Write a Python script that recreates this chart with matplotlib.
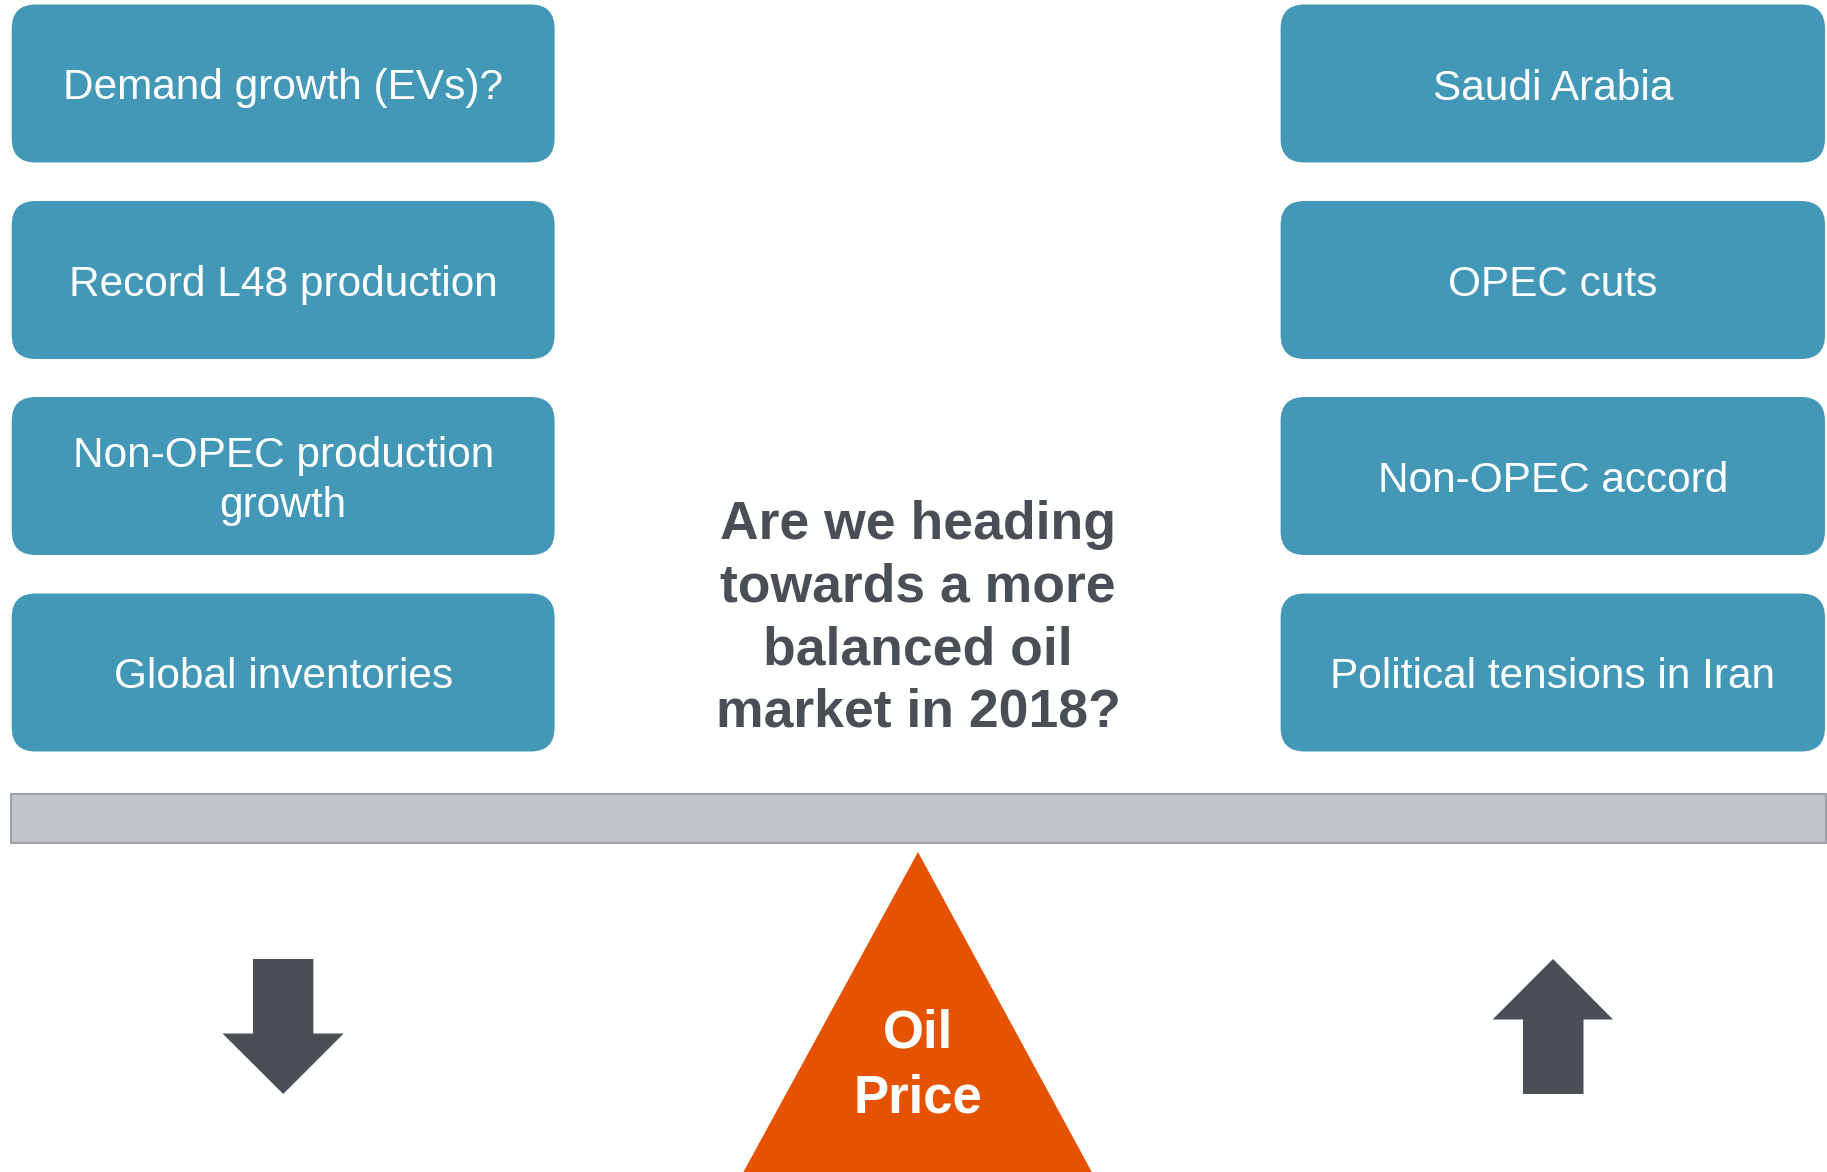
import matplotlib
matplotlib.use("Agg")
import matplotlib.pyplot as plt
from matplotlib.patches import FancyBboxPatch, Rectangle, Polygon

left_labels = ["Demand growth (EVs)?", "Record L48 production",
               "Non-OPEC production\ngrowth", "Global inventories"]
right_labels = ["Saudi Arabia", "OPEC cuts", "Non-OPEC accord",
                "Political tensions in Iran"]
center_question = "Are we heading\ntowards a more\nbalanced oil\nmarket in 2018?"
pivot_label = "Oil\nPrice"

BOX = "#4398B8"
DARK = "#4A4F55"
ORANGE = "#E65300"
BEAM = "#C1C5C8"
BEAM_EDGE = "#9EA2A6"

W, H = 1827, 1172
fig = plt.figure(figsize=(W / 100, H / 100), dpi=100)
ax = fig.add_axes([0, 0, 1, 1])
ax.set_xlim(0, W)
ax.set_ylim(H, 0)
ax.axis("off")

font = "Liberation Sans"
row_tops = [4.5, 201, 397, 593.5]
box_h = 158
r = 24
cols = [(11.7, 554.6, left_labels), (1280.6, 1825, right_labels)]
for x0, x1, labels in cols:
    for top, lab in zip(row_tops, labels):
        p = FancyBboxPatch((x0 + r, top + r), (x1 - x0) - 2 * r, box_h - 2 * r,
                           boxstyle=f"round,pad={r}", fc=BOX, ec="none")
        ax.add_patch(p)
        ax.text((x0 + x1) / 2, top + box_h / 2 + 5, lab, ha="center", va="center",
                color="white", fontsize=30.5, family=font, linespacing=1.3)

# beam
ax.add_patch(Rectangle((10.5, 793.5), 1815, 49, fc=BEAM, ec=BEAM_EDGE, lw=1.5))

# fulcrum
ax.add_patch(Polygon([(918, 852), (743.4, 1172), (1091.8, 1172)], closed=True,
                     fc=ORANGE, ec="none"))
ax.text(918, 1066, pivot_label, ha="center", va="center", color="white",
        fontsize=38, fontweight="bold", family=font, linespacing=1.38)

# center question
ax.text(918, 619, center_question, ha="center", va="center", color=DARK,
        fontsize=38.5, fontweight="bold", family=font, linespacing=1.32)

# down arrow
ax.add_patch(Polygon([(253, 959), (313.4, 959), (313.4, 1033.5), (343.7, 1033.5),
                      (283.2, 1094), (222.5, 1033.5), (253, 1033.5)],
                     closed=True, fc=DARK, ec="none"))
# up arrow
ax.add_patch(Polygon([(1553, 959), (1613, 1019.5), (1583.5, 1019.5), (1583.5, 1094),
                      (1523, 1094), (1523, 1019.5), (1492.6, 1019.5)],
                     closed=True, fc=DARK, ec="none"))

fig.savefig("out.png", dpi=100)
